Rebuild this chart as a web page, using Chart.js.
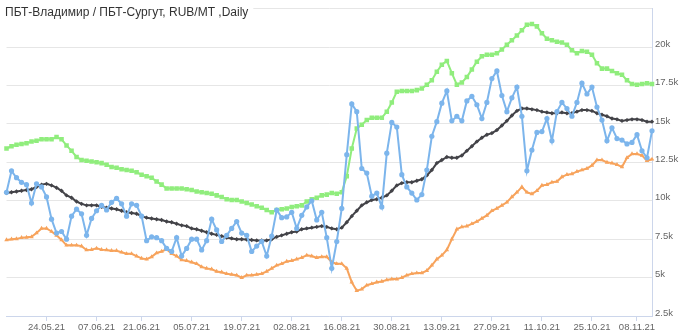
<!DOCTYPE html>
<html><head><meta charset="utf-8">
<script src="https://cdn.jsdelivr.net/npm/chart.js@4.4.1/dist/chart.umd.min.js"></script>
<style>html,body{margin:0;padding:0;background:#fff}#wrap{width:680px;height:335px;position:relative}</style>
</head><body><div id="wrap"><canvas id="c" width="680" height="335"></canvas></div>
<script>
const titleText = 'ПБТ-Владимир / ПБТ-Сургут, RUB/MT ,Daily';
// trading days (business days, Russian holidays excluded)
const firstDay = [2021, 5, 12];
const lastDay = [2021, 11, 11];
const holidays = ['14.06.21', '04.11.21'];
const tickLabels = ['24.05.21','07.06.21','21.06.21','05.07.21','19.07.21','02.08.21','16.08.21','30.08.21','13.09.21','27.09.21','11.10.21','25.10.21','08.11.21'];
const yTicks = [2500, 5000, 7500, 10000, 12500, 15000, 17500, 20000];

const spread = [10550,11950,11500,11200,11050,9850,11100,10900,10250,8800,
7900,8000,7500,9000,9450,9150,7750,8850,9350,9700,
9400,9900,10150,9800,9000,9800,9700,9000,7400,7650,
7600,7400,6900,6700,7600,6400,6900,7500,7500,6800,
7400,8800,8100,7350,7750,8200,8650,7900,7750,6700,
7050,7350,6400,7700,9400,8900,8950,9250,8200,9050,
9600,10000,8750,9250,7600,5600,7350,9500,13000,16300,
15800,12100,11800,10300,10500,9600,13100,15100,14800,11700,
10900,10500,10050,10400,12000,14200,15150,16350,17150,15200,
15500,15200,16500,16800,16250,15350,16400,17950,18450,16850,
15800,16700,17400,15500,11950,13300,14450,14500,15350,13900,
15800,16400,16000,15500,16400,17650,16950,17400,16100,15250,
13900,14750,14050,13950,13700,13800,14300,13250,12800,14550];

const movingAvg = [10500,10550,10600,10650,10700,10750,10900,11050,11100,11000,
10850,10650,10350,10200,9950,9800,9700,9700,9700,9600,
9550,9500,9450,9350,9250,9200,9150,9000,8900,8850,
8800,8750,8650,8600,8500,8400,8350,8200,8150,8050,
7950,7850,7780,7700,7600,7550,7500,7500,7480,7450,
7420,7420,7420,7500,7650,7750,7850,7950,8000,8150,
8200,8250,8300,8350,8300,8200,8150,8250,8600,9000,
9350,9700,9900,10050,10100,10200,10350,10650,11000,11150,
11200,11200,11300,11400,11650,12000,12450,12650,12850,12800,
12800,12950,13250,13550,13850,14100,14300,14400,14600,14900,
15200,15550,15850,16000,16000,15950,15900,15800,15750,15700,
15700,15750,15700,15700,15800,15900,15900,15850,15700,15600,
15500,15350,15300,15200,15250,15300,15300,15250,15150,15150];

const upperBand = [13400,13550,13650,13700,13750,13850,13900,14000,14000,14000,
14150,14000,13600,13250,12850,12650,12600,12550,12500,12450,
12350,12200,12150,12050,12000,11950,11850,11700,11600,11500,
11250,11050,10800,10800,10800,10800,10750,10700,10600,10550,
10500,10450,10350,10250,10100,10050,10050,9950,9850,9750,
9650,9550,9400,9250,9400,9450,9500,9600,9650,9700,
9950,10100,10200,10350,10400,10500,10450,10550,11600,13400,
14700,14950,15250,15400,15400,15400,15800,16400,17100,17150,
17150,17150,17200,17300,17550,17850,18400,18850,19100,18300,
17550,17700,18050,18550,19050,19400,19500,19500,19600,19850,
20150,20450,20750,21100,21450,21500,21350,20900,20550,20450,
20350,20300,20150,19800,19600,19750,19700,19500,18950,18600,
18600,18450,18300,18200,17850,17600,17550,17600,17650,17600];

const lowerBand = [7450,7500,7520,7600,7620,7650,7900,8200,8200,8000,
7750,7450,7100,7100,7100,7050,6800,6820,6900,6820,
6800,6750,6750,6650,6550,6550,6400,6250,6200,6350,
6600,6700,6850,6550,6400,6150,6100,6000,5900,5700,
5600,5550,5400,5350,5250,5200,5150,5000,5150,5150,
5200,5250,5400,5600,5800,5900,6050,6100,6200,6300,
6450,6400,6300,6350,6350,6000,5900,5900,5600,4700,
4150,4250,4500,4600,4700,4750,4850,4900,4900,5000,
5150,5250,5300,5300,5450,5800,6200,6450,6800,7500,
8150,8300,8350,8500,8650,8850,9050,9350,9500,9700,
9900,10250,10550,10900,10550,10450,10650,11000,11050,11200,
11250,11550,11700,11750,11900,12000,12100,12300,12650,12650,
12500,12450,12350,12200,12800,13050,13050,12950,12600,12700];

// category labels: every trading day
function pad(n){return (n<10?'0':'')+n;}
const labels = [];
(function(){
  const d = new Date(firstDay[0], firstDay[1]-1, firstDay[2]);
  const end = new Date(lastDay[0], lastDay[1]-1, lastDay[2]);
  while (d <= end) {
    const wd = d.getDay();
    const s = pad(d.getDate())+'.'+pad(d.getMonth()+1)+'.'+String(d.getFullYear()).slice(2);
    if (wd !== 0 && wd !== 6 && holidays.indexOf(s) < 0) labels.push(s);
    d.setDate(d.getDate()+1);
  }
})();

const titlePlugin = {
  id: 'hcTitle',
  afterDraw(chart) {
    const ctx = chart.ctx;
    ctx.save();
    ctx.font = '12px "Liberation Sans", Arial, sans-serif';
    const w = ctx.measureText(titleText).width;
    ctx.fillStyle = '#ffffff';
    ctx.fillRect(0, 0, w + 10, 20);
    ctx.fillStyle = '#333333';
    ctx.textBaseline = 'middle';
    ctx.fillText(titleText, 5, 13);
    ctx.restore();
  }
};

const gridColor = '#e6e6e6';
const axisColor = '#ccd6eb';

new Chart(document.getElementById('c'), {
  type: 'line',
  data: {
    labels: labels,
    datasets: [
      { label: 'Spread', data: spread, borderColor: '#7cb5ec', backgroundColor: '#7cb5ec',
        borderWidth: 2, pointStyle: 'circle', pointRadius: 2.6, pointBorderWidth: 0, order: 1 },
      { label: 'MA', data: movingAvg, borderColor: '#434348', backgroundColor: '#434348',
        borderWidth: 2, pointStyle: 'rectRot', pointRadius: 2.2, pointBorderWidth: 0, order: 2 },
      { label: 'Upper', data: upperBand, borderColor: '#90ed7d', backgroundColor: '#90ed7d',
        borderWidth: 2, pointStyle: 'rect', pointRadius: 3.2, pointBorderWidth: 0, order: 3 },
      { label: 'Lower', data: lowerBand, borderColor: '#f7a35c', backgroundColor: '#f7a35c',
        borderWidth: 2, pointStyle: 'triangle', pointRadius: 2.6, pointBorderWidth: 0, order: 4 }
    ]
  },
  options: {
    responsive: false,
    animation: false,
    devicePixelRatio: 1,
    layout: { padding: { left: 6.5, top: 6, right: 0, bottom: 0 } },
    plugins: { legend: { display: false }, tooltip: { enabled: false }, title: { display: false } },
    elements: { line: { tension: 0 } },
    scales: {
      x: {
        type: 'category',
        offset: false,
        grid: { drawOnChartArea: false, drawTicks: true, tickLength: 5, color: axisColor },
        border: { display: true, color: axisColor, width: 1 },
        ticks: { autoSkip: false, maxRotation: 0, minRotation: 0, padding: 1,
          color: '#666666', font: { size: 9.5, family: '"Liberation Sans", Arial, sans-serif' } },
        afterBuildTicks(scale) {
          scale.ticks = scale.ticks.filter(t => tickLabels.indexOf(labels[t.value]) >= 0);
        },
        afterFit(scale) { scale.height = 19; }
      },
      y: {
        position: 'right',
        min: 2500, max: 22500,
        grid: { color: gridColor, drawTicks: false, lineWidth: 1 },
        border: { display: true, color: axisColor, width: 1 },
        ticks: {
          stepSize: 2500, padding: 3, labelOffset: -3,
          color: '#666666', font: { size: 9.5, family: '"Liberation Sans", Arial, sans-serif' },
          callback: (v) => yTicks.indexOf(v) >= 0 ? (v / 1000) + 'k' : ''
        },
        afterFit(scale) { scale.width = 28; }
      }
    }
  },
  plugins: [titlePlugin]
});
</script>
</body></html>
